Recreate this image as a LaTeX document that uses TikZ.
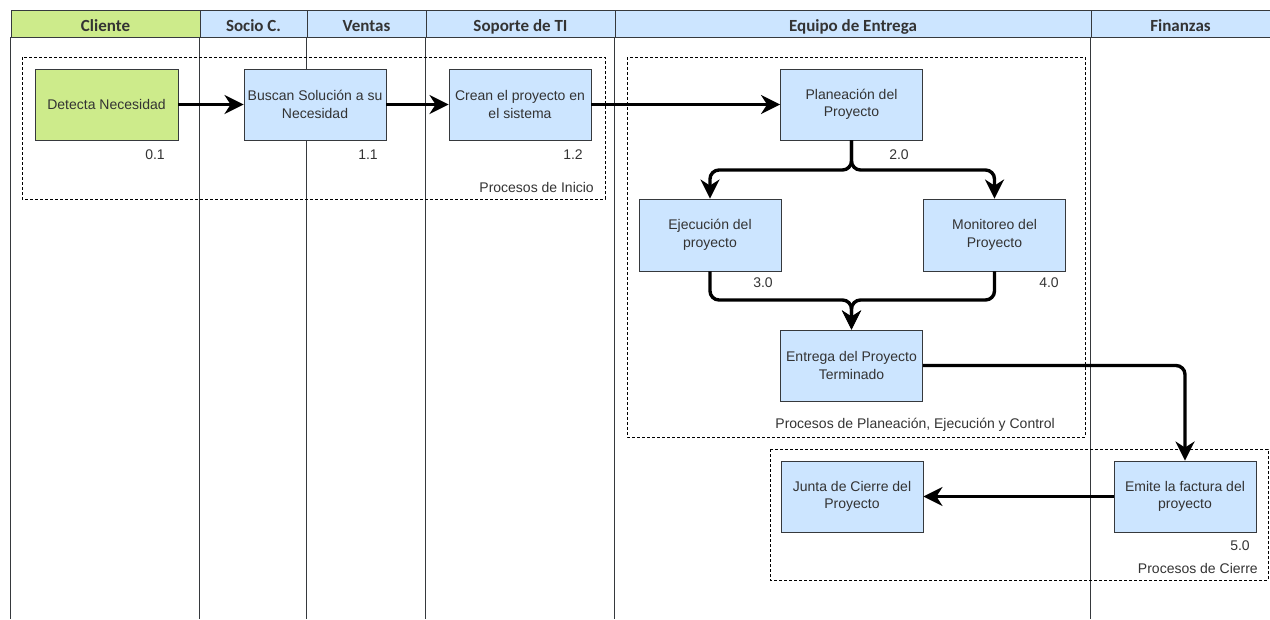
\documentclass[tikz,border=0pt]{standalone}
\usepackage{fontspec}
\setmainfont{Liberation Sans}
\newfontfamily\hdrfont{Carlito}
\usetikzlibrary{arrows.meta}
\definecolor{bluefill}{HTML}{CCE5FF}
\definecolor{greenfill}{HTML}{CDEB8B}
\definecolor{edgegray}{HTML}{36393D}
\definecolor{txtgray}{HTML}{333333}
\begin{document}
\begin{tikzpicture}[x=1pt,y=-1pt,
  proc/.style={draw=edgegray, line width=0.9pt, fill=bluefill, minimum width=142pt, minimum height=71pt, inner sep=1pt, align=center, text=txtgray, font=\fontsize{14}{17.5}\selectfont},
  hdr/.style={draw=edgegray, line width=0.9pt, fill=bluefill, minimum height=27pt, inner sep=0pt, text height=15pt, text depth=0pt, text=txtgray, font=\hdrfont\bfseries\fontsize{17}{19}\selectfont},
  lane/.style={draw=edgegray, line width=0.9pt},
  grp/.style={draw=black, line width=0.8pt, dash pattern=on 3pt off 2pt},
  lbl/.style={text=txtgray, inner sep=0pt, font=\fontsize{14}{16}\selectfont},
  flow/.style={draw=black, line width=3.4pt, rounded corners=9pt, -{Stealth[length=19pt, width=19pt, inset=6pt]}},
]
\useasboundingbox (0,0) rectangle (1270,619);
% headers
\node[hdr, fill=greenfill, minimum width=189pt] (hCli) at (105.5,23.5) {Cliente};
\node[hdr, minimum width=107pt] (hSoc) at (253.5,23.5) {Socio C.};
\node[hdr, minimum width=119pt] (hVen) at (366.5,23.5) {Ventas};
\node[hdr, minimum width=189pt] (hSop) at (520.5,23.5) {Soporte de TI};
\node[hdr, minimum width=476pt] (hEqu) at (853,23.5) {Equipo de Entrega};
\node[hdr, minimum width=179pt] (hFin) at (1180.5,23.5) {Finanzas};
% lane lines
\foreach \h in {hCli,hSoc,hVen,hSop,hEqu,hFin}{
  \draw[lane] (\h.south west) -- (\h.south west |- 0,619);
}
% groups
\draw[grp] (22,57) rectangle (605,199);
\draw[grp] (627,57) rectangle (1085,437);
\draw[grp] (770,449) rectangle (1268,580);
% process nodes
\node[proc, fill=greenfill, minimum width=143pt] (det) at (106.5,104.5) {Detecta Necesidad};
\node[proc] (bus) at (315,104.5) {Buscan Soluci\'on a su\\Necesidad};
\node[proc] (cre) at (520,104.5) {Crean el proyecto en\\el sistema};
\node[proc] (pla) at (851.5,104.5) {Planeaci\'on del\\Proyecto};
\node[proc, minimum height=72pt] (eje) at (710,235) {Ejecuci\'on del\\proyecto};
\node[proc, minimum height=72pt] (mon) at (994.5,235) {Monitoreo del\\Proyecto};
\node[proc] (ent) at (851.5,365.5) {Entrega del Proyecto\\Terminado};
\node[proc] (jun) at (852,496.5) {Junta de Cierre del\\Proyecto};
\node[proc] (emi) at (1185,496.5) {Emite la factura del\\proyecto};
% numbers
\node[lbl] (n01) at (155,155) {0.1};
\node[lbl] (n11) at (368,155) {1.1};
\node[lbl] (n12) at (573,155) {1.2};
\node[lbl] (n20) at (899,155) {2.0};
\node[lbl] (n30) at (763,283) {3.0};
\node[lbl] (n40) at (1049,283) {4.0};
\node[lbl] (n50) at (1240,546) {5.0};
% group labels
\node[lbl, anchor=east] (gInicio) at (594,187) {Procesos de Inicio};
\node[lbl, anchor=east] (gPlan) at (1055,425) {Procesos de Planeaci\'on, Ejecuci\'on y Control};
\node[lbl, anchor=east] (gCierre) at (1258,568) {Procesos de Cierre};
% connectors
\coordinate (split) at (851.5,170);
\coordinate (merge) at (851.5,300);
\draw[flow] (det.east) -- (bus.west);
\draw[flow] (bus.east) -- (cre.west);
\draw[flow] (cre.east) -- (pla.west);
\draw[flow] (pla.south) -- (split) -| (eje.north);
\draw[flow] (pla.south) -- (split) -| (mon.north);
\draw[flow] (eje.south) |- (merge) -- (ent.north);
\draw[flow] (mon.south) |- (merge) -- (ent.north);
\draw[flow] (ent.east) -| (emi.north);
\draw[flow] (emi.west) -- (jun.east);
\end{tikzpicture}
\end{document}
